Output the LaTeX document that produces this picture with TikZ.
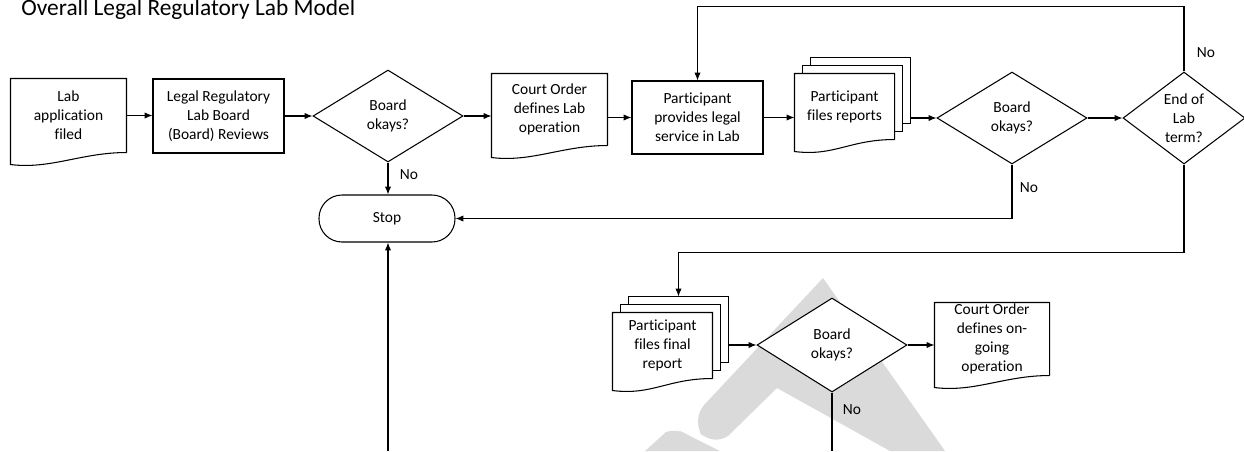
\documentclass[tikz,border=0pt]{standalone}
\usepackage{fontspec}
\setmainfont{Carlito}[Ligatures=NoCommon]
\usetikzlibrary{calc,shapes.geometric,arrows.meta}

\definecolor{markgray}{RGB}{218,218,218}

% document outline with wavy bottom
\newcommand\docwave[1]{%
  \draw (#1.south east) -- (#1.north east) -- (#1.north west) -- ($(#1.south west)+(0,12)$)
    .. controls +(40,5) and +(-45,0) .. (#1.south east);}
% three stacked documents
\newcommand\docstack[1]{%
  \draw ($(#1.north west)+(8,0)$) -- ++(0,-8) -| ($(#1.south east)+(8,-8)$) -- ++(-8,0);
  \draw ($(#1.north west)+(16,-8)$) -- ++(0,-8) -| ($(#1.south east)+(16,-16)$) -- ++(-8,0);
  \docwave{#1}}

\begin{document}
\begin{tikzpicture}[x=0.02cm,y=-0.02cm,font=\fontsize{8.8}{10.8}\selectfont,line width=0.6pt,
  box/.style={draw,fill=white,align=center,inner sep=0pt},
  docbox/.style={align=center,inner sep=0pt},
  decide/.style={draw,fill=white,diamond,align=center,inner sep=0pt,aspect=1.6},
  stopbox/.style={draw,fill=white,rounded corners=0.46cm,inner sep=0pt},
  lbl/.style={inner sep=0pt},
  arr/.style={-{Latex[length=4.5pt,width=3.6pt]}}]
\useasboundingbox (0,0) rectangle (1244,451);

\begin{scope}
\clip (0,0) rectangle (1244,451);
\fill[markgray] (823,278) -- (945,451) -- (890,451) -- (777,388) -- (728,436)
  [rounded corners=12] -- (712,448) -- (690,420) [sharp corners] -- cycle;
\fill[markgray] (645,451) -- (666,432) [rounded corners=6] -- (675,428) -- (686,434) [sharp corners] -- (720,451) -- cycle;
\end{scope}

\node[anchor=base west,font=\fontsize{13.3}{16}\selectfont] (title) at (15,15) {Overall Legal Regulatory Lab Model};

\node[docbox,minimum width=2.3cm,minimum height=1.46cm] (app) at (68.5,115.5) {Lab\\application\\filed};
\docwave{app}
\node[box,minimum width=2.62cm,minimum height=1.48cm] (review) at (218.5,116) {Legal Regulatory\\Lab Board\\(Board) Reviews};
\node[decide,minimum width=3cm,minimum height=1.84cm] (okfirst) at (388,116) {Board\\okays?};
\node[docbox,minimum width=2.3cm,minimum height=1.42cm] (order) at (549.5,109.5) {Court Order\\defines Lab\\operation};
\docwave{order}
\node[box,minimum width=2.62cm,minimum height=1.46cm] (service) at (697.5,117.5) {Participant\\provides legal\\service in Lab};
\node[docbox,minimum width=1.98cm,minimum height=1.3cm] (reports) at (844.5,106.5) {Participant\\files reports};
\docstack{reports}
\node[decide,minimum width=3cm,minimum height=1.84cm] (okreports) at (1012,118) {Board\\okays?};
\node[decide,minimum width=2.44cm,minimum height=1.84cm] (labterm) at (1184,118) {End of\\Lab\\term?};
\node[stopbox,minimum width=2.72cm,minimum height=0.94cm] (stop) at (387,218.5) {Stop};
\node[docbox,minimum width=1.98cm,minimum height=1.3cm] (final) at (662.5,345.5) {Participant\\files final\\report};
\docstack{final}
\node[decide,minimum width=3cm,minimum height=1.88cm] (okfinal) at (832,345) {Board\\okays?};
\node[docbox,minimum width=2.28cm,minimum height=1.44cm] (ongoing) at (992,339) {Court Order\\defines on-\\going\\operation};
\docwave{ongoing}

\coordinate (stopfeed) at (388,451);
\coordinate (finalno) at (832,451);

\draw[arr] (app.east) -- (app.east -| review.west);
\draw[arr] (review) -- (okfirst);
\draw[arr] (okfirst.east) -- (okfirst.east -| order.west);
\draw[arr] (order.east |- service) -- (service.west);
\draw[arr] (service.east) -- (service.east -| reports.west);
\draw[arr] ($(reports.east |- okreports)+(16,0)$) -- (okreports.west);
\draw[arr] (okreports) -- (labterm);
\draw[arr] (labterm.north) -- ++(0,-65) -| (service.north);
\draw[arr] (okreports.south) |- (stop.east);
\draw[arr] (okfirst.south) -- (okfirst.south |- stop.north);
\draw[arr] (labterm.south) -- ++(0,88) -| ($(final.north)+(16,-16)$);
\draw[arr] (stopfeed) -- (stopfeed |- stop.south);
\draw[arr] ($(final.east |- okfinal)+(16,0)$) -- (okfinal.west);
\draw[arr] (okfinal.east) -- (okfinal.east -| ongoing.west);
\draw (okfinal.south) -- (finalno);

\node[lbl] (nofirst) at (409,175) {No};
\node[lbl] (noreports) at (1029,188) {No};
\node[lbl] (noterm) at (1206,53) {No};
\node[lbl] (nofinal) at (852,410) {No};

\end{tikzpicture}
\end{document}
